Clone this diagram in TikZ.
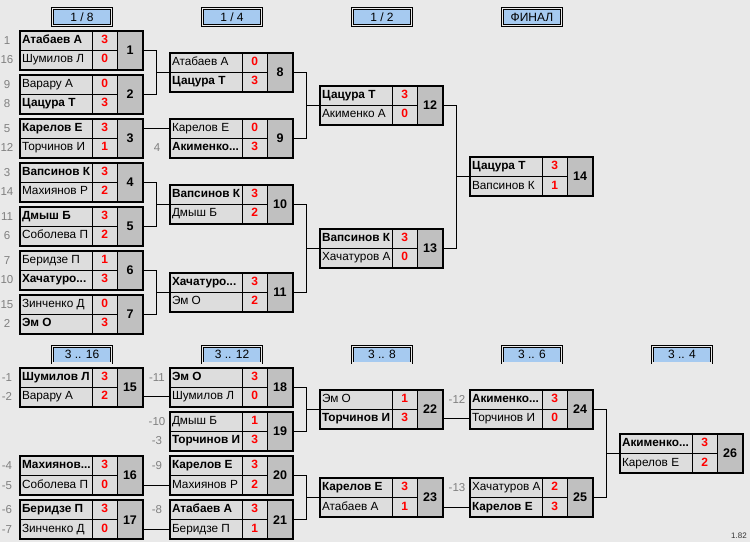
\documentclass[tikz,border=0pt]{standalone}
\usepackage{fontspec}
\setmainfont{Liberation Sans}
\usetikzlibrary{positioning}
\definecolor{fondo}{RGB}{233,233,233}
\definecolor{celdagris}{RGB}{221,221,221}
\definecolor{numgris}{RGB}{192,192,192}
\definecolor{azulronda}{RGB}{166,202,240}
\definecolor{semgris}{RGB}{128,128,128}
\tikzset{
	celda/.style={draw, line width=0.8pt, inner sep=0pt, outer sep=0pt, minimum height=19.5pt, text height=8.2pt, text depth=2.4pt}, % Celda basica de un partido
	nombre/.style={celda, fill=celdagris, inner xsep=2.5pt, font=\fontsize{11.8}{13}\selectfont}, % Nombre del jugador
	tanteo/.style={celda, fill=celdagris, minimum width=25.5pt, text=red, font=\fontsize{12}{13}\selectfont\bfseries}, % Resultado
	numero/.style={draw, line width=0.8pt, fill=numgris, inner sep=0pt, outer sep=0pt, minimum width=25pt, minimum height=39pt, font=\fontsize{12.5}{14}\selectfont\bfseries}, % Numero del partido
	marco/.style={line width=2pt}, % Borde grueso del partido
	ronda/.style={draw, line width=0.8pt, double=fondo, double distance=1.2pt, fill=azulronda, inner sep=0pt, minimum width=59pt, minimum height=16.5pt, font=\fontsize{12}{13}\selectfont}, % Titulo de la ronda
	semilla/.style={text=semgris, font=\fontsize{11.5}{13}\selectfont}, % Numero de sembrado
	conector/.style={line width=0.8pt} % Lineas entre partidos
}
% \partido{num}{x}{y}{jugador 1}{tanteo 1}{jugador 2}{tanteo 2}{ganador}
\newcommand{\partido}[8]{%
	\ifnum#8=1 \def\fuenteA{\bfseries}\def\fuenteB{}\else\def\fuenteA{}\def\fuenteB{\bfseries}\fi
	\node[nombre, anchor=north west] (p#1a) at (#2,#3) {\makebox[67.5pt][l]{\fuenteA #4}};
	\node[tanteo, right=0pt of p#1a] (p#1as) {#5};
	\node[nombre, below=0pt of p#1a] (p#1b) {\makebox[67.5pt][l]{\fuenteB #6}};
	\node[tanteo, right=0pt of p#1b] (p#1bs) {#7};
	\node[numero, anchor=north west] (p#1) at (p#1as.north east) {#1};
	\draw[marco] (p#1a.north west) rectangle (p#1.south east);
}

\begin{document}
\begin{tikzpicture}[x=1pt, y=-1pt]
	\useasboundingbox (0,0) rectangle (750,542);
	\fill[fondo] (0,0) rectangle (750,542);
	% rondas
	\node[ronda] (r1) at (82,17) {1 / 8};
	\node[ronda] (r2) at (232,17) {1 / 4};
	\node[ronda] (r3) at (382,17) {1 / 2};
	\node[ronda] (r4) at (532,17) {ФИНАЛ};
	\node[ronda] (r5) at (82,354.7) {3 .. 16};
	\node[ronda] (r6) at (232,354.7) {3 .. 12};
	\node[ronda] (r7) at (382,354.7) {3 .. 8};
	\node[ronda] (r8) at (532,354.7) {3 .. 6};
	\node[ronda] (r9) at (682,354.7) {3 .. 4};
	% cuadro principal
	\partido{1}{19.5}{30.5}{Атабаев А}{3}{Шумилов Л}{0}{1}
	\partido{2}{19.5}{74.5}{Варару А}{0}{Цацура Т}{3}{2}
	\partido{3}{19.5}{118.5}{Карелов Е}{3}{Торчинов И}{1}{1}
	\partido{4}{19.5}{162.5}{Вапсинов К}{3}{Махиянов Р}{2}{1}
	\partido{5}{19.5}{206.5}{Дмыш Б}{3}{Соболева П}{2}{1}
	\partido{6}{19.5}{250.5}{Беридзе П}{1}{Хачатуро...}{3}{2}
	\partido{7}{19.5}{294.5}{Зинченко Д}{0}{Эм О}{3}{2}
	\partido{8}{169.5}{52.5}{Атабаев А}{0}{Цацура Т}{3}{2}
	\partido{9}{169.5}{118.5}{Карелов Е}{0}{Акименко...}{3}{2}
	\partido{10}{169.5}{184.5}{Вапсинов К}{3}{Дмыш Б}{2}{1}
	\partido{11}{169.5}{272.5}{Хачатуро...}{3}{Эм О}{2}{1}
	\partido{12}{319.5}{85.5}{Цацура Т}{3}{Акименко А}{0}{1}
	\partido{13}{319.5}{228.5}{Вапсинов К}{3}{Хачатуров А}{0}{1}
	\partido{14}{469.5}{157}{Цацура Т}{3}{Вапсинов К}{1}{1}
	% cuadro de consolacion
	\partido{15}{19.5}{367.5}{Шумилов Л}{3}{Варару А}{2}{1}
	\partido{16}{19.5}{456}{Махиянов...}{3}{Соболева П}{0}{1}
	\partido{17}{19.5}{500.2}{Беридзе П}{3}{Зинченко Д}{0}{1}
	\partido{18}{169.5}{367.5}{Эм О}{3}{Шумилов Л}{0}{1}
	\partido{19}{169.5}{411.7}{Дмыш Б}{1}{Торчинов И}{3}{2}
	\partido{20}{169.5}{456}{Карелов Е}{3}{Махиянов Р}{2}{1}
	\partido{21}{169.5}{500.2}{Атабаев А}{3}{Беридзе П}{1}{1}
	\partido{22}{319.5}{389.6}{Эм О}{1}{Торчинов И}{3}{2}
	\partido{23}{319.5}{478.1}{Карелов Е}{3}{Атабаев А}{1}{1}
	\partido{24}{469.5}{389.6}{Акименко...}{3}{Торчинов И}{0}{1}
	\partido{25}{469.5}{478.1}{Хачатуров А}{2}{Карелов Е}{3}{2}
	\partido{26}{619.5}{433.85}{Акименко...}{3}{Карелов Е}{2}{1}
	% sembrados
	\foreach \n/\t in {1a/1, 1b/16, 2a/9, 2b/8, 3a/5, 3b/12, 4a/3, 4b/14, 5a/11, 5b/6, 6a/7, 6b/10, 7a/15, 7b/2, 15a/-1, 15b/-2, 16a/-4, 16b/-5, 17a/-6, 17b/-7}
		\node[semilla] (s\n) at (7,0 |- p\n) {\t};
	\foreach \n/\t in {9b/4, 18a/-11, 19a/-10, 19b/-3, 20a/-9, 21a/-8}
		\node[semilla] (s\n) at (157,0 |- p\n) {\t};
	\foreach \n/\t in {24a/-12, 25a/-13}
		\node[semilla] (s\n) at (457,0 |- p\n) {\t};
	% conectores
	\foreach \a/\b/\c in {1/2/8, 4/5/10, 6/7/11, 8/9/12, 10/11/13, 12/13/14, 18/19/22, 20/21/23, 24/25/26} {
		\draw[conector] (p\a.east) -- ++(14,0) coordinate (j\c) |- (p\b.east);
		\draw[conector] (p\c.west) -- (p\c.west -| j\c);
	}
	\foreach \a/\c in {3/9a, 15/18b, 16/20b, 17/21b, 22/24b, 23/25b}
		\draw[conector] (p\c.west) -- (p\c.west -| p\a.east);
	\node[font=\fontsize{8}{9}\selectfont, text=black!80] (ver) at (739,536) {1.82};
\end{tikzpicture}
\end{document}
